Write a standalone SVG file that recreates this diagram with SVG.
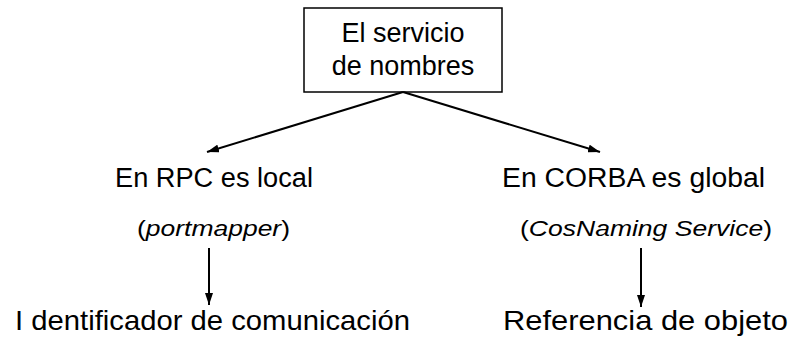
<svg xmlns="http://www.w3.org/2000/svg" width="794" height="337" viewBox="0 0 794 337">
<style>
text{font-family:"Liberation Sans",Arial,sans-serif;fill:#000}
.main{font-size:27px}
.sub{font-size:22px}
.low{font-size:28px}
.edge{stroke:#000;stroke-width:2;fill:none}
</style>
<defs>
<marker id="ah" viewBox="0 0 12 8" refX="12" refY="4" markerWidth="12" markerHeight="8" markerUnits="userSpaceOnUse" orient="auto">
<path d="M0,0 L12,4 L0,8 Z" fill="#000"/>
</marker>
</defs>
<rect width="794" height="337" fill="#fff"/>
<g id="root">
<rect x="304" y="8" width="198" height="84" fill="#fff" stroke="#000" stroke-width="1.5"/>
<text class="main" x="403" y="42" text-anchor="middle">El servicio</text>
<text class="main" x="403" y="75" text-anchor="middle">de nombres</text>
</g>
<g id="rpc">
<text class="main" x="115" y="187" textLength="198" lengthAdjust="spacingAndGlyphs">En RPC es local</text>
<text class="sub" x="137" y="236" textLength="153" lengthAdjust="spacingAndGlyphs">(<tspan font-style="italic">portmapper</tspan>)</text>
</g>
<g id="corba">
<text class="main" x="502" y="187" textLength="263" lengthAdjust="spacingAndGlyphs">En CORBA es global</text>
<text class="sub" x="520" y="236" textLength="252" lengthAdjust="spacingAndGlyphs">(<tspan font-style="italic">CosNaming Service</tspan>)</text>
</g>
<g id="ident">
<text class="low" x="15" y="330" textLength="395" lengthAdjust="spacingAndGlyphs">I dentificador de comunicación</text>
</g>
<g id="ref">
<text class="low" x="503" y="330" textLength="285" lengthAdjust="spacingAndGlyphs">Referencia de objeto</text>
</g>
<g id="connectors">
<line class="edge" x1="403" y1="92" x2="207" y2="152" marker-end="url(#ah)"/>
<line class="edge" x1="403" y1="92" x2="600" y2="152" marker-end="url(#ah)"/>
<line class="edge" x1="209" y1="248" x2="209" y2="305" marker-end="url(#ah)"/>
<line class="edge" x1="641" y1="248" x2="641" y2="307" marker-end="url(#ah)"/>
</g>
</svg>
